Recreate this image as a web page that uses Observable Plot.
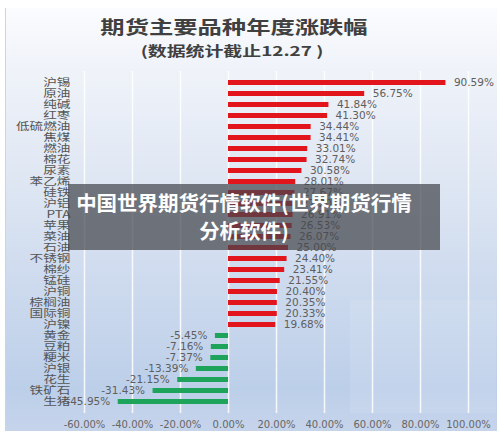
<!DOCTYPE html>
<html>
<head>
<meta charset="utf-8">
<script src="https://cdn.jsdelivr.net/npm/d3@7"></script>
<script src="https://cdn.jsdelivr.net/npm/@observablehq/plot@0.6"></script>
<style>
  body { margin: 0; background: #fff; }
  #wrap { position: relative; width: 500px; height: 435px; overflow: hidden; background: #fff; }
  #panel {
    position: absolute; left: 5px; top: 8px; width: 491px; height: 423px;
    background: linear-gradient(to bottom, #fbfcfe 0%, #f1f4fa 12%, #dfe7f3 40%, #cad8ed 70%, #bccfe9 90%, #c6d4eb 100%);
    border-left: 1px solid #cfd4db;
  }
  #chart { position: absolute; left: 0; top: 0; width: 500px; }
  #chart figure { margin: 0; }
  #chart figure h2 {
    margin: 0; padding: 13px 32px 0 0; height: 24px; line-height: 24px;
    font: 700 18px "Noto Sans CJK SC", sans-serif;
    color: #404040; text-align: center;
    transform: scaleX(1.35); transform-origin: 234px 50%;
  }
  #chart figure h3 {
    margin: 0; padding: 3px 36px 0 0; height: 18px; line-height: 18px;
    font: 700 13.5px "Noto Sans CJK SC", sans-serif;
    color: #404040; text-align: center;
    transform: scaleX(1.4); transform-origin: 232px 50%;
  }
  #faint {
    position: absolute; left: 350px; top: 300px; width: 146px; height: 113px;
    background: rgba(255,255,255,0.10);
  }
  #overlay {
    position: absolute; left: 68px; top: 184px; width: 372px; height: 66px;
    box-sizing: border-box; padding: 4px 20px 0 0;
    background: rgba(68,70,76,0.72); color: #fff;
    font: 700 20.5px/28px "Noto Sans CJK SC", sans-serif; text-align: center;
  }
</style>
</head>
<body>
<div id="wrap">
  <div id="panel"></div>
  <div id="chart"></div>
  <div id="faint"></div>
  <div id="overlay">中国世界期货行情软件(世界期货行情<br>分析软件)</div>
</div>
<script>
const titleText = "期货主要品种年度涨跌幅";
const subtitleText = "(数据统计截止12.27 )";

const categories = ["沪锡","原油","纯碱","红枣","低硫燃油","焦煤","燃油","棉花","尿素","苯乙烯",
  "硅铁","沪铝","PTA","苹果","菜油","石油","不锈钢","棉纱","锰硅","沪铜",
  "棕榈油","国际铜","沪镍","黄金","豆粕","粳米","沪银","花生","铁矿石","生猪"];

const values = [90.59, 56.75, 41.84, 41.30, 34.44, 34.41, 33.01, 32.74, 30.58, 28.01,
  27.67, 27.20, 26.91, 26.53, 26.07, 25.00, 24.40, 23.41, 21.55, 20.40,
  20.35, 20.33, 19.68, -5.45, -7.16, -7.37, -13.39, -21.15, -31.43, -45.95];

const xTicks = [-60, -40, -20, 0, 20, 40, 60, 80, 100];

const data = categories.map((name, i) => ({name, value: values[i]}));
const gains = data.filter(d => d.value >= 0);
const losses = data.filter(d => d.value < 0);
const pct = v => v.toFixed(2) + "%";

const chart = Plot.plot({
  title: titleText,
  subtitle: subtitleText,
  width: 500,
  height: 377,
  marginLeft: 84,
  marginRight: 32,
  marginTop: 13,
  marginBottom: 22,
  style: {background: "transparent", color: "#5a5a5a", overflow: "visible"},
  x: {domain: [-60, 100]},
  y: {domain: categories, paddingInner: 0.56, paddingOuter: 0.28},
  marks: [
    Plot.gridX(xTicks, {stroke: "#ffffff", strokeOpacity: 0.85, strokeWidth: 1.5}),
    Plot.barX(gains, {x: "value", y: "name", fill: "#e2141c"}),
    Plot.barX(losses, {x: "value", y: "name", fill: "#1ea35b"}),
    Plot.text(gains, {x: "value", y: "name", text: d => pct(d.value), textAnchor: "start", dx: 8,
      fontFamily: "DejaVu Sans", fontSize: 10.5, fill: "#5e5e5e"}),
    Plot.text(losses, {x: "value", y: "name", text: d => pct(d.value), textAnchor: "end", dx: -8,
      fontFamily: "DejaVu Sans", fontSize: 10.5, fill: "#5e5e5e"}),
    Plot.axisX({ticks: xTicks, tickFormat: pct, tickSize: 0, tickPadding: 7, label: null,
      fontFamily: "DejaVu Sans", fontSize: 10, fill: "#666"}),
    Plot.axisY({tickSize: 0, tickPadding: 14, label: null,
      fontFamily: "Noto Sans CJK SC", fontSize: 10.5, fill: "#555"})
  ]
});

document.getElementById("chart").appendChild(chart);
// stretch the category labels horizontally about their right-hand anchor, like the reference
chart.querySelectorAll('g[aria-label="y-axis tick label"] text').forEach(t => {
  const tr = t.getAttribute("transform");
  if (tr) t.setAttribute("transform", tr + " scale(1.3,1)");
});
</script>
</body>
</html>
